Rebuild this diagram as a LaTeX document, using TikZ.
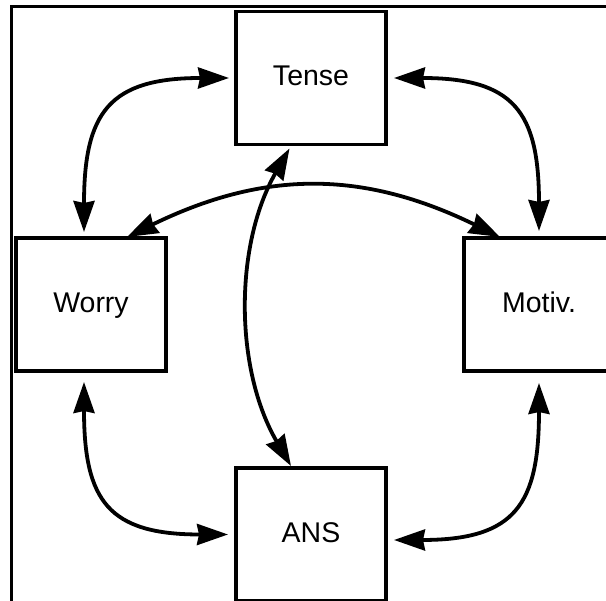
\documentclass[tikz,border=0pt]{standalone}
\usepackage{fontspec}
\setmainfont{Liberation Sans}
\usetikzlibrary{arrows.meta}
\begin{document}
\begin{tikzpicture}[x=1pt,y=1pt,
  box/.style={draw, line width=3.5pt, minimum width=150pt, minimum height=133pt,
    inner sep=0pt, outer sep=0pt, font=\fontsize{28.5}{34}\selectfont,
    text height=20.4pt, text depth=5pt},
  link/.style={line width=3.8pt, {Stealth[length=31pt,width=21pt,inset=2pt]}-{Stealth[length=31pt,width=21pt,inset=2pt]}}]
\useasboundingbox (0,0) rectangle (606,601);
\clip (0,0) rectangle (606,601);
% frame
\draw[line width=3pt] (11,-20) rectangle (640,594);
% the four states
\node[box] (tense) at (311,523) {Tense};
\node[box] (worry) at (91,296.5) {Worry};
\node[box] (motiv) at (539,296.5) {Motiv.};
\node[box] (ans)   at (311,66.5) {ANS};
% links around the cycle
\draw[link] ([xshift=-7pt,yshift=6pt]worry.north) to[out=90,in=180,looseness=1.45] ([xshift=-7pt]tense.west);
\draw[link] ([xshift=8pt]tense.east) to[out=0,in=90,looseness=1.45] ([yshift=7pt]motiv.north);
\draw[link] ([xshift=-7pt,yshift=-11pt]worry.south) to[out=-90,in=180,looseness=1.45] ([xshift=-8pt]ans.west);
\draw[link] ([yshift=-12pt]motiv.south) to[out=-90,in=0,looseness=1.45] ([xshift=8pt,yshift=-5.5pt]ans.east);
% cross links
\draw[link] ([xshift=36pt,yshift=1pt]worry.north) to[out=26,in=154,looseness=1.05] ([xshift=-39pt,yshift=1pt]motiv.north);
\draw[link] ([xshift=-21.5pt,yshift=-4pt]tense.south) to[bend right=30,looseness=0.9] ([xshift=-20pt,yshift=2pt]ans.north);
\end{tikzpicture}
\end{document}
